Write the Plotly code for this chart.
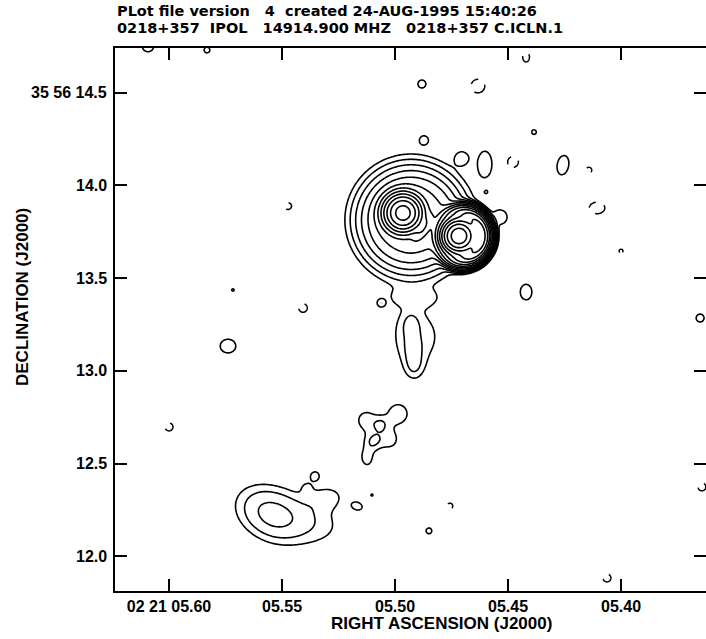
import numpy as np
import plotly.graph_objects as go

# ---------------- axis ticks ----------------
RA_TICKS = [5.60, 5.55, 5.50, 5.45, 5.40]
RA_LABELS = ["02 21 05.60", "05.55", "05.50", "05.45", "05.40"]
DEC_TICKS = [12.0, 12.5, 13.0, 13.5, 14.0, 14.5]
DEC_LABELS = ["12.0", "12.5", "13.0", "13.5", "14.0", "35 56 14.5"]
RA_RANGE = [5.6239, 5.3624]      # seconds of time (02h21m)
DEC_RANGE = [11.814, 14.740]     # arcsec (+35d56')

# ---------------- contour levels (powers of 2 of lowest level) ----------------
POS_LEVEL_EXP = list(range(0, 14))   # levels 1,2,4,...,8192
NEG_LEVEL_EXP = [0]                  # level -1

# ---------------- Gaussian source components ----------------
# RA (s), Dec (arcsec), peak (lowest-level units), sigma major / minor (mas), angle (deg, ccw from west)
comp_ra = [
    5.4717, 5.4965, 5.4876,                              # A, B, bridge
    5.4916, 5.4929, 5.4920, 5.4916, 5.4907,              # jet
    5.5062, 5.5097, 5.4987, 5.5128, 5.5124, 5.5022, 5.5080,  # blob
    5.5553, 5.5442, 5.5305, 5.5389,                      # lower-left lobe
    5.6093, 5.5832, 5.4881, 5.4872, 5.4704, 5.4602, 5.4385, 5.4257, 5.4420,
    5.5739, 5.5717, 5.5062, 5.5354, 5.5168, 5.5102, 5.4850, 5.3650, 5.4535, 5.4597,
    5.4633, 5.4420, 5.4478, 5.4142, 5.4106, 5.4000, 5.5473, 5.5407, 5.6000, 5.4757,
    5.4062, 5.3642,
]
comp_dec = [
    13.727, 13.851, 13.770,
    13.398, 13.242, 13.129, 13.037, 13.183,
    12.714, 12.617, 12.768, 12.736, 12.536, 12.628, 12.660,
    12.229, 12.208, 12.315, 12.375,
    14.751, 14.729, 14.546, 14.244, 14.147, 14.115, 14.287, 14.109, 13.425,
    13.134, 13.436, 13.366, 12.434, 12.272, 12.331, 12.138, 13.285, 13.829, 13.964,
    14.535, 14.691, 14.126, 14.082, 13.878, 13.646, 13.888, 13.339, 12.698, 12.272,
    11.884, 12.375,
]
comp_peak = [
    14000, 2900, 70,
    1.25, 1.9, 1.9, 1.9, 1.35,
    1.4, 1.4, 1.6, 1.45, 1.4, 1.2, 1.0,
    3.6, 2.2, 1.5, 0.9,
    1.6, 1.6, 1.6, 1.6, 1.6, 1.6, 1.6, 1.6, 1.6,
    1.6, 1.6, 1.6, 1.6, 1.6, 1.6, 1.6, 1.6, 1.6, 1.6,
    -1.6, -1.6, -1.6, -1.6, -1.6, -1.6, -1.6, -1.6, -1.6, -1.6,
    -1.6, -1.6,
]
comp_smaj = [
    40, 45, 48,
    97, 49, 49, 49, 146,
    30, 30, 49, 43, 49, 43, 49,
    110, 162, 65, 27,
    32, 16, 22, 22, 32, 70, 13, 54, 43,
    43, 7, 16, 22, 27, 6, 16, 22, 38, 7,
    38, 27, 30, 16, 43, 11, 19, 24, 22, 16,
    22, 22,
]
comp_smin = [
    40, 45, 19,
    38, 32, 32, 32, 129,
    30, 30, 49, 43, 32, 43, 49,
    80, 86, 43, 27,
    32, 16, 22, 22, 32, 38, 13, 32, 32,
    38, 7, 16, 22, 19, 6, 16, 22, 38, 7,
    38, 19, 30, 16, 32, 11, 19, 24, 22, 16,
    22, 22,
]
comp_pa = [
    0, 0, 58,
    0, 90, 90, 90, 90,
    0, 0, 0, 0, 90, 0, 0,
    -30, -15, 10, 0,
    0, 0, 0, 0, 0, 90, 0, 80, 90,
    0, 0, 0, 0, -20, 0, 0, 0, 0, 0,
    0, 90, 0, 0, 0, 0, 0, 0, 0, 0,
    0, 0,
]

# soft-edged disk (extended halo around the two images)
disk_ra = [5.4929]
disk_dec = [13.813]
disk_peak = [50]
disk_radius = [200]      # mas
disk_edge = [40]         # mas (e-folding of the edge)

# crescent of steep emission on the west side of image A
cres_ra = [5.4717]
cres_dec = [13.727]
cres_peak = [3000]
cres_radius = [119]      # mas
cres_width = [24]        # mas
cres_pa = [0]            # deg
cres_spread = [50]       # deg

# ---------------- model image on a grid ----------------
COS_DEC = np.cos(np.deg2rad(35 + 56 / 60 + 13 / 3600))
ra = np.linspace(5.3590, 5.6275, 520)
dec = np.linspace(11.78, 14.78, 480)
RA, DEC = np.meshgrid(ra, dec)


def offsets(ra0, dec0):
    dx = -(RA - ra0) * 15 * COS_DEC * 1000.0
    dy = (DEC - dec0) * 1000.0
    return dx, dy


img = np.zeros_like(RA)
for r0, d0, pk, sa, sb, pa in zip(comp_ra, comp_dec, comp_peak, comp_smaj, comp_smin, comp_pa):
    dx, dy = offsets(r0, d0)
    t = np.deg2rad(pa)
    u = dx * np.cos(t) + dy * np.sin(t)
    v = -dx * np.sin(t) + dy * np.cos(t)
    img += pk * np.exp(-0.5 * ((u / sa) ** 2 + (v / sb) ** 2))

for r0, d0, pk, rad, edge in zip(disk_ra, disk_dec, disk_peak, disk_radius, disk_edge):
    dx, dy = offsets(r0, d0)
    rr = np.hypot(dx, dy)
    img += pk / (1.0 + np.exp((rr - rad) / edge))

for r0, d0, pk, rad, wid, pa, spr in zip(cres_ra, cres_dec, cres_peak, cres_radius,
                                         cres_width, cres_pa, cres_spread):
    dx, dy = offsets(r0, d0)
    rr = np.hypot(dx, dy)
    th = np.rad2deg(np.arctan2(dy, dx)) - pa
    th = (th + 180) % 360 - 180
    img += pk * np.exp(-0.5 * ((rr - rad) / wid) ** 2) * np.exp(-0.5 * (th / spr) ** 2)

floor = 2.0 ** -4
zpos = np.log2(np.clip(img, floor, None)).astype(np.float32)
zneg = np.log2(np.clip(-img, floor, None)).astype(np.float32)

fig = go.Figure()
fig.add_trace(go.Contour(
    x=ra, y=dec, z=zpos,
    autocontour=False,
    contours=dict(start=POS_LEVEL_EXP[0], end=POS_LEVEL_EXP[-1], size=1, coloring="none"),
    line=dict(color="black", width=1.6, smoothing=1),
    showscale=False, hoverinfo="skip",
))
fig.add_trace(go.Contour(
    x=ra, y=dec, z=zneg,
    autocontour=False,
    contours=dict(start=NEG_LEVEL_EXP[0], end=NEG_LEVEL_EXP[0] + 0.5, size=1, coloring="none"),
    line=dict(color="black", width=1.5, dash="dash", smoothing=1),
    showscale=False, hoverinfo="skip",
))
# right-hand tick marks
fig.add_trace(go.Scatter(x=[None], y=[None], yaxis="y2", showlegend=False, hoverinfo="skip"))

tickfont = dict(family="Liberation Sans", size=16, color="black", weight="bold")

fig.update_layout(
    width=706, height=639,
    margin=dict(l=115, r=0, t=48, b=48),
    paper_bgcolor="white", plot_bgcolor="white",
    showlegend=False,
    xaxis=dict(range=RA_RANGE, tickvals=RA_TICKS, ticktext=RA_LABELS,
               ticks="inside", ticklen=12, tickwidth=1.5, tickcolor="black",
               showline=True, linecolor="black", linewidth=1.5, mirror="ticks",
               showgrid=False, zeroline=False, tickfont=tickfont),
    yaxis=dict(range=DEC_RANGE, tickvals=DEC_TICKS,
               ticks="inside", ticklen=12, tickwidth=1.5, tickcolor="black",
               showline=True, linecolor="black", linewidth=1.5, mirror=False,
               showgrid=False, zeroline=False, showticklabels=False),
    yaxis2=dict(range=DEC_RANGE, tickvals=DEC_TICKS, overlaying="y", side="right",
                ticks="inside", ticklen=12, tickwidth=1.5, tickcolor="black",
                showticklabels=False, showline=False, showgrid=False, zeroline=False),
)

# declination tick labels, placed just left of the frame
for val, lab in zip(DEC_TICKS, DEC_LABELS):
    fig.add_annotation(text=lab, xref="paper", yref="y", x=(109 - 115) / 591, y=val,
                       xanchor="right", yanchor="middle", showarrow=False, font=tickfont)

headfont = dict(family="DejaVu Sans", size=14.5, color="black", weight="bold")
titlefont = dict(family="Liberation Sans", size=17, color="black", weight="bold")
NB = "\u00a0"
fig.add_annotation(text=f"PLot file version{NB*3}4{NB*2}created 24-AUG-1995 15:40:26",
                   xref="paper", yref="paper", x=0.0, y=(591 - 11) / 543, xanchor="left",
                   yanchor="middle", showarrow=False, font=headfont)
fig.add_annotation(text=f"0218+357{NB*2}IPOL{NB*3}14914.900 MHZ{NB*3}0218+357 C.ICLN.1",
                   xref="paper", yref="paper", x=0.0, y=(591 - 28.5) / 543, xanchor="left",
                   yanchor="middle", showarrow=False, font=headfont)
fig.add_annotation(text="RIGHT ASCENSION (J2000)",
                   xref="paper", yref="paper", x=(441 - 115) / 591, y=(591 - 623) / 543,
                   xanchor="center", yanchor="middle", showarrow=False, font=titlefont)
fig.add_annotation(text="DECLINATION (J2000)", textangle=-90,
                   xref="paper", yref="paper", x=(22 - 115) / 591, y=(591 - 297) / 543,
                   xanchor="center", yanchor="middle", showarrow=False, font=titlefont)

fig.write_html("out.html")
